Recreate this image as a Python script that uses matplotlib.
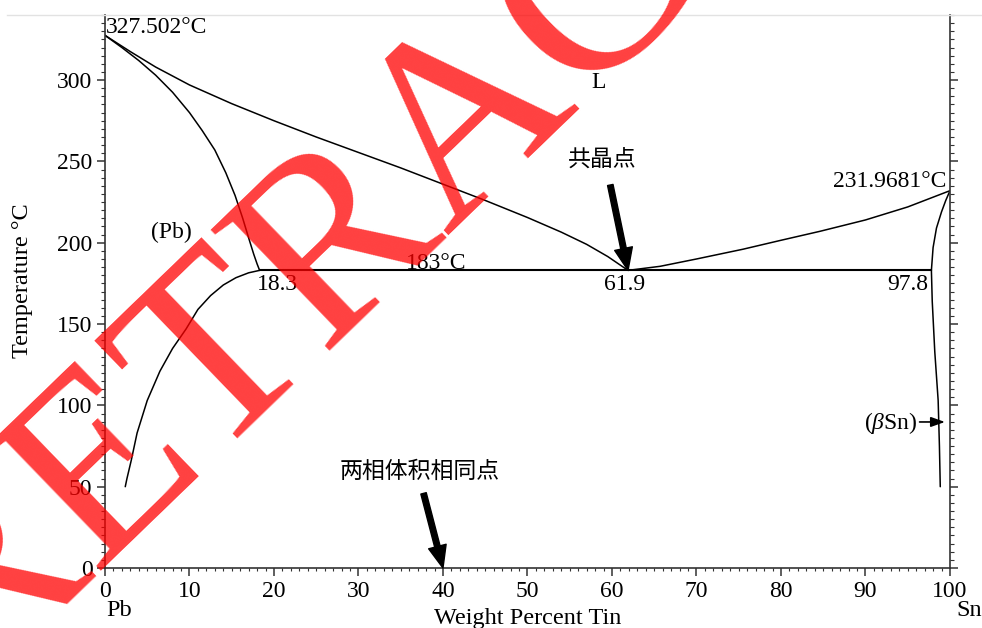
import matplotlib
matplotlib.use("Agg")
import matplotlib.pyplot as plt
from matplotlib.ticker import MultipleLocator
from matplotlib.lines import Line2D

plt.rcParams['font.family'] = ['Liberation Serif', 'Noto Sans CJK SC', 'DejaVu Sans']
plt.rcParams['mathtext.fontset'] = 'custom'
plt.rcParams['mathtext.rm'] = 'Liberation Serif'
plt.rcParams['mathtext.it'] = 'Liberation Serif:italic'

# Pb-Sn phase boundaries (wt% Sn, temperature in °C)
liquidus_pb_x = [0, 3, 6, 10, 15, 20, 25, 30, 35, 40, 45, 50, 54, 57, 59.5, 61.9]
liquidus_pb_t = [327.5, 317.5, 308, 297, 285.5, 275, 265, 255.5, 246, 236, 226,
                 215.5, 206.5, 199, 191.5, 183]

solidus_pb_x = [0, 2, 4, 6, 8, 10, 11.5, 13, 14.3, 15.4, 16.3, 17, 17.6, 18.0, 18.3]
solidus_pb_t = [327.5, 320, 312, 303, 292.5, 280, 269, 257, 243, 229, 215, 203,
                193, 187, 183]

solvus_pb_x = [18.3, 17, 15.5, 14, 12.5, 11, 9.6, 8, 6.5, 5, 3.8, 3.1, 2.6, 2.4]
solvus_pb_t = [183, 181.5, 178.5, 174, 167.5, 159, 147, 135, 121, 103, 83, 66,
               55, 50]

liquidus_sn_x = [61.9, 65.7, 70, 75.5, 80, 84.6, 90, 95, 100]
liquidus_sn_t = [183, 185.5, 190, 196, 201.5, 207, 214, 222, 232]

solidus_sn_x = [100, 99.5, 99.0, 98.4, 98.0, 97.8]
solidus_sn_t = [232, 226, 219, 209, 197, 183]

solvus_sn_x = [97.8, 97.9, 98.2, 98.6, 98.75, 98.85]
solvus_sn_t = [183, 164, 133, 103, 75, 50]

eutectic_t = 183
eutectic_x = [18.3, 97.8]

x_ticks = [0, 10, 20, 30, 40, 50, 60, 70, 80, 90, 100]
y_ticks = [0, 50, 100, 150, 200, 250, 300]

fig = plt.figure(figsize=(9.82, 6.28), dpi=100)
ax = fig.add_axes([0.1069, 0.0955, 0.8605, 0.8806])

line_kw = dict(color='black', lw=1.1, solid_capstyle='round',
               solid_joinstyle='round')
ax.plot(liquidus_pb_x, liquidus_pb_t, **line_kw)
ax.plot(solidus_pb_x, solidus_pb_t, **line_kw)
ax.plot(solvus_pb_x, solvus_pb_t, **line_kw)
ax.plot(liquidus_sn_x, liquidus_sn_t, **line_kw)
ax.plot(solidus_sn_x, solidus_sn_t, **line_kw)
ax.plot(solvus_sn_x, solvus_sn_t, **line_kw)
ax.plot(eutectic_x, [eutectic_t, eutectic_t], color='black', lw=1.5)

ax.set_xlim(0, 100)
ax.set_ylim(0, 340)
ax.set_xticks(x_ticks)
ax.set_yticks(y_ticks)
ax.xaxis.set_minor_locator(MultipleLocator(1))
ax.yaxis.set_minor_locator(MultipleLocator(5))

for side in ('left', 'bottom', 'right'):
    ax.spines[side].set_color('#333333')
    ax.spines[side].set_linewidth(1.2)
ax.spines['top'].set_visible(False)

ax.tick_params(which='both', direction='out', left=True, right=True,
               labelright=False, colors='#333333', labelcolor='black',
               labelsize=17)
ax.tick_params(which='major', length=6, width=1.1, pad=3)
ax.tick_params(which='minor', length=3, width=0.8)
ax.tick_params(axis='x', which='minor', length=2.5)

ax.set_xlabel('Weight Percent Tin', fontsize=17.5)
ax.xaxis.set_label_coords(0.5, -0.072)
ax.xaxis.label.set_va('top')
ax.set_ylabel('Temperature °C', fontsize=17.5)
ax.yaxis.set_label_coords(-0.085, 0.52)

txt = dict(fontsize=17, color='black')
ax.text(0.1, 329, '327.502°C', ha='left', va='baseline', **txt)
ax.text(57.6, 295, 'L', ha='left', va='baseline', **txt)
ax.text(7.9, 206.6, '(Pb)', ha='center', va='center', **txt)
ax.text(18.0, 171, '18.3', ha='left', va='baseline', **txt)
ax.text(39.2, 184, '183°C', ha='center', va='baseline', **txt)
ax.text(61.5, 171, '61.9', ha='center', va='baseline', **txt)
ax.text(97.4, 171, '97.8', ha='right', va='baseline', **txt)
ax.text(99.6, 234, '231.9681°C', ha='right', va='baseline', **txt)
ax.text(96.1, 89.2, r'($\beta$Sn)', ha='right', va='center', **txt)

cjk = ['Noto Sans CJK SC', 'DejaVu Sans']
ax.text(58.9, 251, '共晶点', ha='center', va='center', fontsize=16.5,
        family=cjk)
ax.text(37.3, 59.7, '两相体积相同点', ha='center', va='center', fontsize=16.5,
        family=cjk)

big_arrow = dict(facecolor='black', edgecolor='black', width=4,
                 headwidth=13, headlength=16, shrink=0)
ax.annotate('', xy=(61.9, 183), xytext=(59.8, 235.5), arrowprops=big_arrow)
ax.annotate('', xy=(40, 0), xytext=(37.7, 45.9), arrowprops=big_arrow,
            annotation_clip=False)
ax.annotate('', xy=(99.4, 89.8), xytext=(96.4, 89.8),
            arrowprops=dict(arrowstyle='-|>,head_length=0.7,head_width=0.25',
                            color='black', lw=1.2, mutation_scale=12,
                            shrinkA=0, shrinkB=0))

fig.text(0.1212, 0.0271, 'Pb', ha='center', va='center', fontsize=17.5)
fig.text(0.9868, 0.0271, 'Sn', ha='center', va='center', fontsize=17.5)

# faint page border
fig.add_artist(Line2D([7 / 982, 1], [1 - 15 / 628] * 2, color='#e2e2e2',
                      lw=1, transform=fig.transFigure))

# diagonal watermark
fig.text(0.5275, 0.7436, 'RETRACTED', fontsize=186, color='red', alpha=0.75,
         rotation=44, rotation_mode='anchor', ha='center', va='baseline',
         family='Liberation Serif', zorder=10)

fig.savefig('out.png', dpi=100)
